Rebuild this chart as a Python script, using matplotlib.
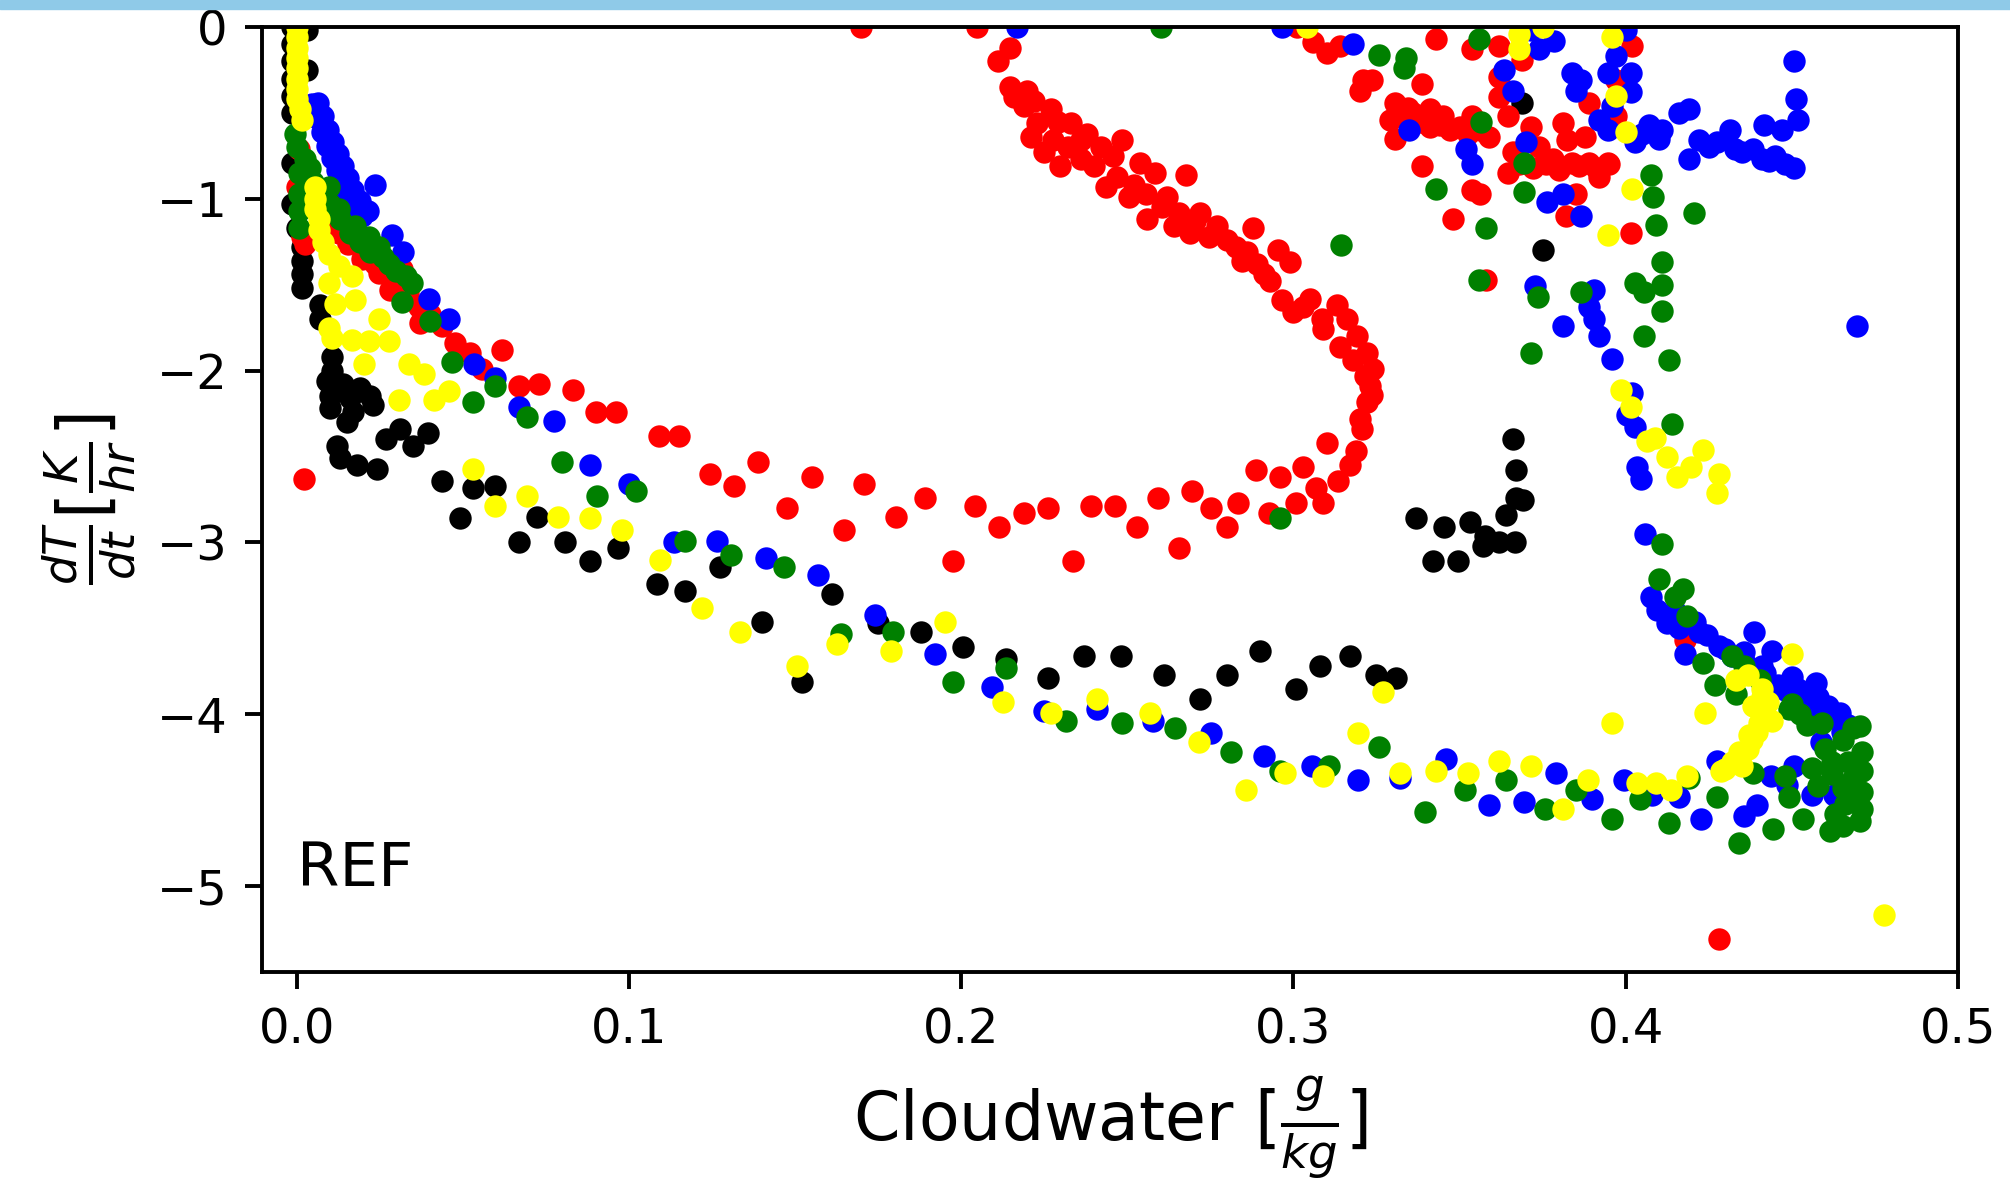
import numpy as np
import matplotlib
matplotlib.use('Agg')
import matplotlib.pyplot as plt
from matplotlib.patches import Rectangle

# ---- data (cloudwater g/kg, dT/dt K/hr) ----
black_x = [-0.0015, -0.0015, -0.0015, -0.0015, -0.0015, -0.0015, 0.003, 0.003,
           -0.0015, -0.0015, 0.0, 0.0015, 0.0015, 0.0015, 0.0015, 0.007, 0.007,
           0.0105, 0.0105, 0.009, 0.014, 0.019, 0.010, 0.016, 0.022, 0.010, 0.017,
           0.023, 0.015, 0.012, 0.013, 0.018, 0.024, 0.027, 0.031, 0.035, 0.0394,
           0.0436, 0.053, 0.0596, 0.049, 0.0722, 0.067, 0.0807, 0.0882, 0.0966,
           0.1084, 0.1168, 0.1273, 0.140, 0.152, 0.161, 0.175, 0.188, 0.2005,
           0.2134, 0.226, 0.237, 0.248, 0.261, 0.2718, 0.280, 0.290, 0.3007, 0.308,
           0.317, 0.3248, 0.3308, 0.337, 0.3453, 0.353, 0.342, 0.3495, 0.3575,
           0.357, 0.3618, 0.3667, 0.364, 0.367, 0.369, 0.367, 0.366, 0.3688, 0.375]
black_y = [0.0, -0.1, -0.2, -0.3, -0.4, -0.5, -0.02, -0.25,
           -0.79, -1.03, -1.17, -1.28, -1.36, -1.44, -1.52, -1.62, -1.70,
           -1.92, -2.00, -2.06, -2.08, -2.10, -2.15, -2.16, -2.15, -2.22, -2.24,
           -2.20, -2.30, -2.44, -2.51, -2.55, -2.57, -2.40, -2.34, -2.44, -2.36,
           -2.64, -2.68, -2.67, -2.86, -2.85, -3.00, -3.00, -3.11, -3.03,
           -3.24, -3.28, -3.14, -3.46, -3.81, -3.30, -3.47, -3.52, -3.61,
           -3.68, -3.79, -3.66, -3.66, -3.77, -3.91, -3.77, -3.63, -3.85, -3.72,
           -3.66, -3.77, -3.79, -2.86, -2.91, -2.88, -3.11, -3.11, -2.96,
           -3.02, -3.00, -3.00, -2.84, -2.74, -2.75, -2.58, -2.40, -0.44, -1.30]

red_x = [0.0006, 0.0, 0.0015, 0.0024, 0.0096, 0.0127, 0.0155, 0.0196, 0.0247, 0.028,
         0.0316, 0.0367, 0.037, 0.0437, 0.0476, 0.052, 0.0557, 0.0617, 0.067, 0.073,
         0.083, 0.090, 0.096, 0.109, 0.115, 0.1243, 0.1316, 0.1388, 0.1475, 0.155,
         0.1647, 0.1707, 0.1803, 0.189, 0.1975, 0.2041, 0.2114, 0.2189, 0.2261,
         0.2337, 0.2391, 0.2463, 0.2529, 0.2592, 0.2655, 0.2694, 0.2751, 0.280,
         0.2833, 0.2887, 0.2926, 0.2959, 0.3007, 0.3028, 0.3067, 0.3088, 0.310,
         0.3134, 0.3188, 0.320, 0.322, 0.323, 0.324, 0.322, 0.319, 0.316, 0.313,
         0.3085, 0.305, 0.300, 0.2965, 0.299, 0.291, 0.2953, 0.286, 0.2878, 0.2827,
         0.277, 0.272, 0.2688, 0.264, 0.256, 0.262, 0.2676, 0.2583, 0.2505, 0.2435,
         0.2537, 0.2456, 0.240, 0.242, 0.232, 0.2297, 0.225, 0.238, 0.233, 0.2228,
         0.227, 0.219, 0.2197, 0.2146, 0.211, 0.2146,
         0.216, 0.222, 0.229, 0.236, 0.221, 0.2275, 0.236, 0.247, 0.252, 0.2485,
         0.2555, 0.2605, 0.2655, 0.2705, 0.2745, 0.280, 0.2845, 0.289, 0.293, 0.303,
         0.309, 0.314, 0.318, 0.3215, 0.3235, 0.3205, 0.317,
         0.0205, 0.0235, 0.0300, 0.0335, 0.0400,
         0.306, 0.310, 0.314, 0.321, 0.320, 0.3236, 0.343, 0.3387, 0.3305, 0.329,
         0.3305, 0.336, 0.341, 0.341, 0.347, 0.3525, 0.3537, 0.3537, 0.359, 0.362,
         0.362, 0.362, 0.3646, 0.366, 0.3688, 0.3715, 0.374, 0.378, 0.3838, 0.389,
         0.3946, 0.392, 0.3387, 0.3537, 0.356, 0.3646, 0.381, 0.3823, 0.3877, 0.385,
         0.382, 0.348, 0.4016, 0.402, 0.389, 0.397, 0.397, 0.358, 0.3345, 0.3445,
         0.368, 0.372, 0.376, 0.380, 0.386, 0.391, 0.395,
         0.333, 0.338, 0.344, 0.350, 0.356, 0.345,
         0.1698, 0.2047, 0.301, 0.0023, 0.4178, 0.428]
red_y = [-0.71, -0.93, -1.22, -1.26, -1.12, -1.20, -1.26, -1.35, -1.43, -1.53,
         -1.41, -1.63, -1.72, -1.74, -1.84, -1.90, -1.99, -1.88, -2.09, -2.08,
         -2.11, -2.24, -2.24, -2.38, -2.38, -2.60, -2.67, -2.53, -2.80, -2.62,
         -2.93, -2.66, -2.85, -2.74, -3.11, -2.79, -2.91, -2.83, -2.80,
         -3.11, -2.79, -2.79, -2.91, -2.74, -3.03, -2.70, -2.80, -2.91,
         -2.77, -2.58, -2.83, -2.62, -2.77, -2.56, -2.68, -2.77, -2.42,
         -2.64, -2.47, -2.28, -2.18, -2.09, -1.99, -1.90, -1.80, -1.70, -1.62,
         -1.70, -1.58, -1.66, -1.59, -1.37, -1.44, -1.30, -1.31, -1.17, -1.28,
         -1.16, -1.08, -1.20, -1.16, -1.12, -0.99, -0.86, -0.85, -0.99, -0.93,
         -0.79, -0.75, -0.81, -0.70, -0.70, -0.81, -0.73, -0.62, -0.56, -0.56,
         -0.48, -0.46, -0.37, -0.35, -0.20, -0.12,
         -0.41, -0.43, -0.55, -0.66, -0.64, -0.66, -0.77, -0.87, -0.92, -0.66,
         -0.97, -1.05, -1.08, -1.13, -1.22, -1.24, -1.36, -1.38, -1.48, -1.63,
         -1.76, -1.86, -1.94, -2.03, -2.14, -2.34, -2.55,
         -1.30, -1.38, -1.48, -1.55, -1.67,
         -0.09, -0.15, -0.11, -0.31, -0.37, -0.31, -0.07, -0.33, -0.44, -0.54,
         -0.65, -0.50, -0.48, -0.58, -0.60, -0.62, -0.13, -0.52, -0.64, -0.11,
         -0.29, -0.41, -0.52, -0.73, -0.19, -0.58, -0.70, -0.77, -0.79, -0.79,
         -0.79, -0.87, -0.81, -0.95, -0.97, -0.85, -0.56, -0.66, -0.64, -0.97,
         -1.10, -1.12, -1.20, -0.11, -0.44, -0.52, -0.31, -1.47, -0.47, -0.56,
         -0.80, -0.82, -0.80, -0.83, -0.81, -0.82, -0.80,
         -0.50, -0.55, -0.57, -0.58, -0.60, -0.52,
         0.0, 0.0, 0.0, -2.63, -3.57, -5.31]

blue_x = [0.0045, 0.006, 0.0075, 0.009, 0.0105, 0.012, 0.0135, 0.015, 0.0175, 0.0196,
          0.0065, 0.008, 0.0095, 0.011, 0.0125, 0.014, 0.0155, 0.017, 0.019, 0.0215,
          0.0235, 0.0286, 0.032, 0.0397, 0.0457, 0.0533, 0.0596, 0.0668, 0.0775,
          0.0884, 0.1, 0.1136, 0.1264, 0.1413, 0.1568, 0.174, 0.1921, 0.2092,
          0.2249, 0.2408, 0.2577, 0.2751, 0.2911, 0.3055, 0.3194, 0.332, 0.346,
          0.359, 0.3693, 0.379, 0.390, 0.3995, 0.408, 0.416, 0.4226, 0.4274,
          0.4356, 0.4395, 0.4437, 0.4485, 0.4506, 0.456, 0.4627, 0.4588, 0.465,
          0.4627, 0.456,
          0.4058, 0.4076, 0.4094, 0.4124, 0.4148, 0.4208, 0.4244, 0.428, 0.4178,
          0.4356, 0.4386, 0.444, 0.441, 0.450, 0.4458, 0.4572, 0.4548, 0.4608,
          0.4645, 0.4668, 0.432, 0.4375, 0.448, 0.416, 0.422, 0.430, 0.436, 0.442,
          0.452, 0.458, 0.462,
          0.402, 0.4003, 0.4028, 0.4034, 0.4046, 0.396, 0.392, 0.3904, 0.389,
          0.3904, 0.381, 0.3727, 0.3763, 0.3865, 0.381, 0.4696,
          0.318, 0.3634, 0.366, 0.3347, 0.352, 0.3537, 0.37, 0.3784, 0.374, 0.3838,
          0.3865, 0.385, 0.3946, 0.4016, 0.397, 0.4016, 0.3958, 0.392, 0.3946,
          0.4028, 0.407, 0.411, 0.416, 0.419, 0.419, 0.422, 0.4274, 0.4313, 0.4328,
          0.4383, 0.441, 0.4416, 0.445, 0.447, 0.4506, 0.4512, 0.4518, 0.4506,
          0.405, 0.410, 0.425, 0.435, 0.443, 0.448,
          0.2167, 0.2965, 0.3715, 0.400]
blue_y = [-0.45, -0.53, -0.61, -0.69, -0.76, -0.83, -0.90, -0.97, -1.04, -1.10,
          -0.44, -0.52, -0.60, -0.67, -0.74, -0.81, -0.88, -0.95, -1.01, -1.07,
          -0.92, -1.21, -1.31, -1.58, -1.70, -1.96, -2.04, -2.21, -2.295,
          -2.55, -2.66, -3.00, -2.99, -3.09, -3.19, -3.42, -3.65, -3.84,
          -3.98, -3.97, -4.04, -4.11, -4.24, -4.30, -4.38, -4.37, -4.26,
          -4.53, -4.51, -4.34, -4.49, -4.38, -4.47, -4.48, -4.61, -4.27,
          -4.59, -4.53, -4.36, -4.41, -4.30, -4.47, -4.47, -4.16, -4.10,
          -4.02, -3.95,
          -2.95, -3.32, -3.39, -3.47, -3.40, -3.46, -3.54, -3.60, -3.65,
          -3.64, -3.52, -3.63, -3.72, -3.78, -3.83, -3.82, -3.88, -3.95,
          -3.99, -4.06, -3.66, -3.74, -3.86, -3.50, -3.52, -3.62, -3.70, -3.76,
          -3.85, -3.90, -4.00,
          -2.13, -2.26, -2.33, -2.56, -2.63, -1.93, -1.80, -1.70, -1.63,
          -1.53, -1.74, -1.51, -1.02, -1.10, -0.97, -1.74,
          -0.10, -0.25, -0.37, -0.60, -0.71, -0.80, -0.67, -0.08, -0.13, -0.27,
          -0.31, -0.37, -0.27, -0.27, -0.17, -0.38, -0.46, -0.54, -0.60,
          -0.67, -0.57, -0.60, -0.50, -0.48, -0.77, -0.66, -0.67, -0.60, -0.71,
          -0.71, -0.77, -0.57, -0.75, -0.60, -0.82, -0.42, -0.54, -0.20,
          -0.62, -0.65, -0.70, -0.73, -0.78, -0.80,
          0.0, 0.0, -0.02, -0.02]

green_x = [-0.0005, 0.0, 0.0024, 0.0006, 0.0006, 0.0006, 0.0006, 0.004, 0.0096, 0.0126,
           0.0175, 0.0217, 0.0247, 0.0277, 0.0346, 0.0316, 0.040, 0.0467, 0.0596,
           0.005, 0.008, 0.010, 0.013, 0.016, 0.019, 0.022, 0.026, 0.030, 0.033,
           0.053, 0.0692, 0.0798, 0.0903, 0.102, 0.1168, 0.1306, 0.1466, 0.1638,
           0.1794, 0.1975, 0.2134, 0.2315, 0.2483, 0.2643, 0.2812, 0.2959, 0.3107,
           0.3257, 0.3395, 0.3516, 0.364, 0.3757, 0.385, 0.396, 0.4043, 0.413,
           0.419, 0.4274, 0.434, 0.4383, 0.4443, 0.449, 0.4479, 0.4533, 0.456,
           0.460, 0.4615, 0.4654, 0.4654, 0.471, 0.471, 0.471, 0.471, 0.4684,
           0.4545, 0.449, 0.462, 0.467, 0.458, 0.463,
           0.411, 0.410, 0.4172, 0.4148, 0.4184, 0.4232, 0.4268, 0.432, 0.4356,
           0.4404, 0.4332, 0.450, 0.4524, 0.459, 0.4705, 0.4655, 0.462, 0.468,
           0.466, 0.4705,
           0.414, 0.3258, 0.3338, 0.3332, 0.3558, 0.3564, 0.3693, 0.343, 0.3693,
           0.358, 0.3143, 0.3558, 0.3736, 0.3865, 0.3715, 0.4076, 0.4082, 0.4205,
           0.409, 0.411, 0.4028, 0.4055, 0.411, 0.411, 0.4055, 0.413, 0.2601, 0.2959]
green_y = [-0.62, -0.70, -0.77, -0.85, -0.97, -1.07, -1.17, -0.82, -0.93, -1.06,
           -1.16, -1.22, -1.28, -1.38, -1.49, -1.60, -1.71, -1.95, -2.09,
           -0.90, -0.98, -1.03, -1.12, -1.20, -1.25, -1.31, -1.34, -1.42, -1.45,
           -2.18, -2.27, -2.53, -2.73, -2.70, -2.99, -3.07, -3.14, -3.53,
           -3.52, -3.81, -3.73, -4.04, -4.05, -4.08, -4.22, -4.33, -4.30,
           -4.19, -4.57, -4.44, -4.38, -4.55, -4.44, -4.61, -4.49, -4.63,
           -4.37, -4.48, -4.75, -4.34, -4.67, -4.48, -4.36, -4.61, -4.31,
           -4.20, -4.68, -4.65, -4.43, -4.55, -4.45, -4.33, -4.22, -4.08,
           -4.06, -3.97, -4.35, -4.28, -4.42, -4.58,
           -3.01, -3.21, -3.27, -3.32, -3.43, -3.70, -3.83, -3.66, -3.72,
           -3.80, -3.88, -3.94, -4.00, -4.05, -4.07, -4.15, -4.28, -4.38,
           -4.52, -4.62,
           -2.31, -0.16, -0.18, -0.24, -0.07, -0.55, -0.79, -0.94, -0.96,
           -1.17, -1.27, -1.47, -1.57, -1.54, -1.90, -0.86, -0.99, -1.08,
           -1.15, -1.37, -1.49, -1.54, -1.50, -1.65, -1.80, -1.94, 0.0, -2.86]

yellow_x = [0.0, 0.0, 0.0, 0.0, 0.0, 0.0, 0.0, 0.0, 0.001, 0.0015,
            0.0054, 0.0054, 0.0054, 0.0066, 0.0066, 0.008, 0.0096, 0.0126, 0.0166,
            0.0096, 0.0114, 0.0175, 0.0247, 0.0096, 0.0105, 0.0166, 0.0217, 0.0277,
            0.0202, 0.0337, 0.0382, 0.0457, 0.0412, 0.0307,
            0.053, 0.0596, 0.0692, 0.0786, 0.0882, 0.0978, 0.1093, 0.1219, 0.1334,
            0.1505, 0.1626, 0.179, 0.195, 0.2125, 0.227, 0.2408, 0.2568, 0.2715,
            0.2857, 0.2974, 0.309, 0.3194, 0.327, 0.332, 0.343, 0.3525, 0.362,
            0.3715, 0.381, 0.3886, 0.396, 0.4034, 0.409, 0.4136, 0.4184, 0.4238,
            0.4286, 0.4335, 0.4368, 0.4395, 0.4422, 0.4383, 0.4428, 0.444, 0.4332,
            0.4368, 0.450, 0.441, 0.438, 0.435, 0.430, 0.440, 0.437, 0.434, 0.432,
            0.441, 0.4777,
            0.3986, 0.4016, 0.4064, 0.4088, 0.4124, 0.4154, 0.4196, 0.4232, 0.428,
            0.4274, 0.3946, 0.402, 0.400, 0.397, 0.396, 0.368, 0.368, 0.375, 0.304]
yellow_y = [0.0, -0.06, -0.12, -0.18, -0.24, -0.30, -0.36, -0.42, -0.48, -0.54,
            -0.93, -1.00, -1.06, -1.12, -1.18, -1.25, -1.32, -1.39, -1.45,
            -1.49, -1.61, -1.59, -1.70, -1.75, -1.81, -1.82, -1.83, -1.83,
            -1.96, -1.96, -2.02, -2.12, -2.17, -2.17,
            -2.57, -2.79, -2.73, -2.85, -2.86, -2.93, -3.10, -3.38, -3.52,
            -3.72, -3.59, -3.63, -3.46, -3.93, -3.99, -3.91, -3.99, -4.16,
            -4.44, -4.34, -4.36, -4.11, -3.87, -4.34, -4.33, -4.34, -4.27,
            -4.30, -4.55, -4.38, -4.05, -4.40, -4.40, -4.44, -4.36, -3.99,
            -4.33, -4.27, -4.20, -4.10, -4.01, -3.95, -3.93, -4.04, -3.80,
            -3.77, -3.65, -3.85, -4.15, -4.30, -4.32, -4.05, -4.12, -4.22, -4.28,
            -3.90, -5.17,
            -2.11, -2.21, -2.41, -2.39, -2.50, -2.62, -2.56, -2.46, -2.60,
            -2.71, -1.21, -0.94, -0.61, -0.40, -0.06, -0.04, -0.13, 0.0, 0.0]

series = [(black_x, black_y, 'black'),
          (red_x, red_y, 'red'),
          (blue_x, blue_y, 'blue'),
          (green_x, green_y, 'green'),
          (yellow_x, yellow_y, 'yellow')]

#---- figure ----
fig = plt.figure(figsize=(20.1, 11.85), dpi=100)
# light blue strip along the top edge of the screenshot
fig.patches.append(Rectangle((0, 1 - 9/1185.), 1, 9/1185., transform=fig.transFigure,
                             color='#8fcae8', zorder=0))
ax = fig.add_axes([0.1303, 0.1797, 0.8438, 0.7975])

for xs, ys, c in series:
    ax.scatter(xs, ys, s=260, c=c, linewidths=0)

ax.set_xlim(-0.0105, 0.5)
ax.set_ylim(-5.5, 0)
ax.set_xticks([0.0, 0.1, 0.2, 0.3, 0.4, 0.5])
ax.set_yticks([0, -1, -2, -3, -4, -5])

ax.text(0, -5, 'REF', fontsize=44)

ax.set_xlabel(r'Cloudwater [$\frac{g}{kg}$]', fontsize=48, labelpad=14)
ax.set_ylabel(r'$\frac{dT}{dt}[\frac{K}{hr}]$', fontsize=48, labelpad=14)

ax.tick_params(labelsize=34.6, length=12.5, width=2.8, pad=12)
for sp in ax.spines.values():
    sp.set_linewidth(2.8)

fig.savefig('out.png', dpi=100)
